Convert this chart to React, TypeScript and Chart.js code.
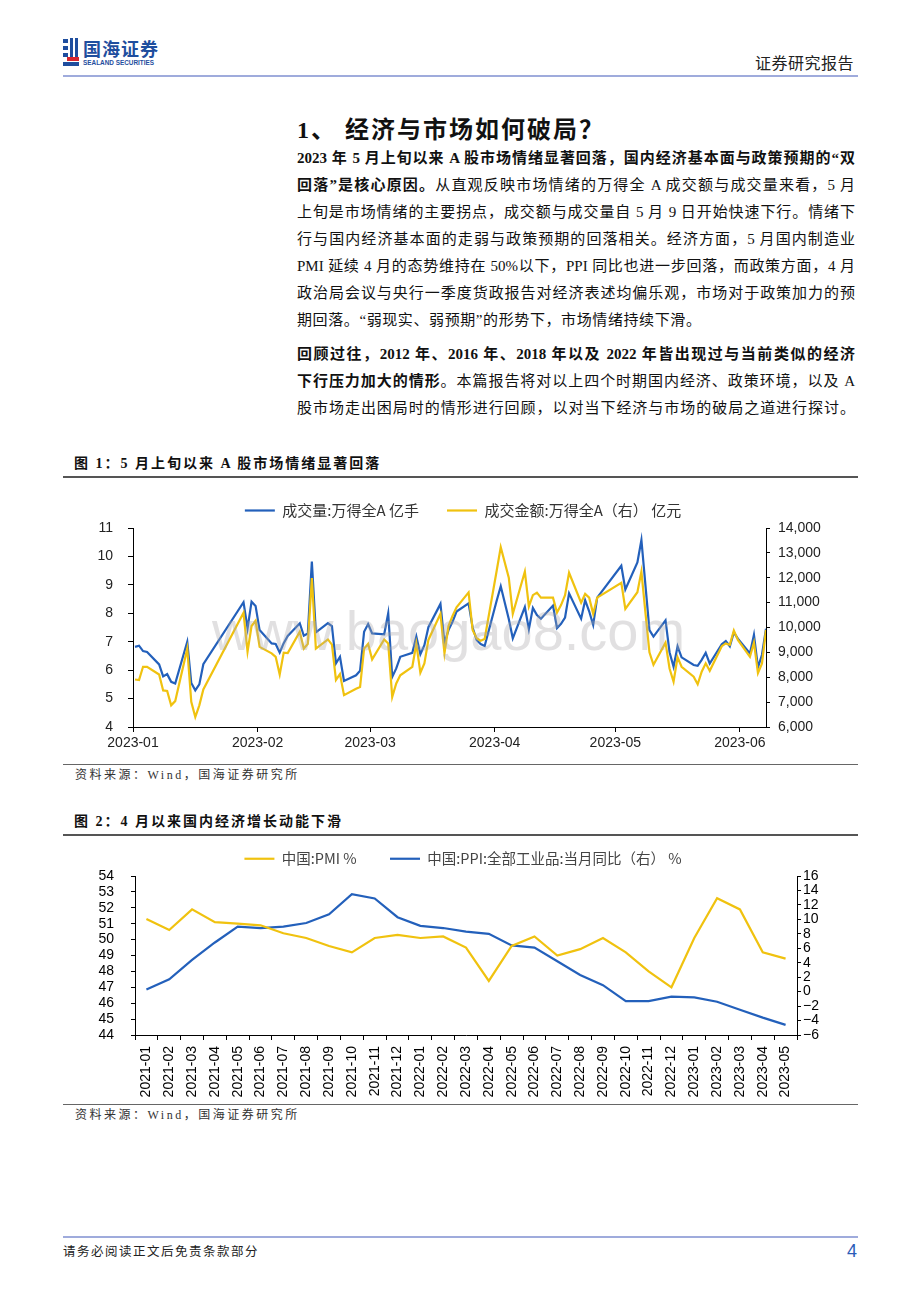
import React, { useEffect, useRef } from 'react';
import { Chart, registerables } from 'chart.js';

Chart.register(...registerables);

// ---------- Figure 1 data (2023 trading days) ----------
const tradeDates = [
  '01-03', '01-04', '01-05', '01-06', '01-09', '01-10', '01-11', '01-12', '01-13', '01-16', '01-17', '01-18', '01-19', '01-20', '01-30', '01-31',
  '02-01', '02-02', '02-03', '02-06', '02-07', '02-08', '02-09', '02-10', '02-13', '02-14', '02-15', '02-16', '02-17', '02-20', '02-21', '02-22', '02-23', '02-24', '02-27', '02-28',
  '03-01', '03-02', '03-03', '03-06', '03-07', '03-08', '03-09', '03-10', '03-13', '03-14', '03-15', '03-16', '03-17', '03-20', '03-21', '03-22', '03-23', '03-24', '03-27', '03-28', '03-29', '03-30', '03-31',
  '04-03', '04-04', '04-06', '04-07', '04-10', '04-11', '04-12', '04-13', '04-14', '04-17', '04-18', '04-19', '04-20', '04-21', '04-24', '04-25', '04-26', '04-27', '04-28',
  '05-04', '05-05', '05-08', '05-09', '05-10', '05-11', '05-12', '05-15', '05-16', '05-17', '05-18', '05-19', '05-22', '05-23', '05-24', '05-25', '05-26', '05-29', '05-30', '05-31',
  '06-01', '06-02', '06-05', '06-06', '06-07', '06-08', '06-09',
];

// 成交量:万得全A (亿手)
const volume = [
  6.82, 6.86, 6.67, 6.64, 6.20, 5.78, 5.86, 5.59, 5.53, 7.00, 5.55, 5.29, 5.50, 6.21, 8.39, 7.47,
  8.41, 8.26, 7.41, 6.94, 6.92, 6.62, 6.95, 7.20, 7.65, 7.21, 7.29, 9.82, 7.33, 7.65, 7.55, 6.24, 6.47, 5.62, 5.82, 5.98,
  7.35, 7.62, 7.29, 7.26, 8.00, 5.76, 6.06, 6.47, 6.61, 7.18, 6.56, 6.88, 7.51, 8.33, 6.94, 7.41, 7.70, 8.06, 8.35, 7.50, 7.06, 6.92, 6.85,
  8.45, 8.95, 7.80, 7.12, 8.22, 7.44, 8.19, 7.94, 7.81, 8.27, 7.48, 7.63, 7.85, 8.70, 7.81, 8.46, 8.07, 7.59, 8.55,
  9.67, 8.84, 9.79, 10.58, 8.99, 7.41, 7.18, 7.75, 6.63, 6.12, 6.84, 6.45, 6.18, 6.15, 6.36, 6.61, 6.23, 6.91, 7.02, 6.84,
  7.33, 7.11, 6.59, 7.24, 6.10, 6.54, 7.46,
];

// 成交金额:万得全A (亿元)
const amount = [
  7910, 7890, 8420, 8420, 8110, 7470, 7450, 6870, 7040, 9150, 7010, 6400, 6870, 7510, 10590, 9030,
  10060, 10270, 9220, 8960, 8820, 8110, 8990, 8970, 9830, 9150, 9340, 11990, 9150, 9520, 9310, 7890, 8130, 7280, 7540, 7610,
  9150, 9340, 8720, 9520, 9360, 7210, 7750, 8080, 8420, 9340, 8180, 8560, 9500, 10550, 8960, 10060, 10460, 10810, 11410, 9900, 9570, 9470, 9540,
  12290, 13230, 12000, 10550, 12250, 10850, 11300, 11400, 11200, 11200, 10600, 10900, 11300, 12200, 11000, 11350, 11200, 10550, 11200,
  11800, 10750, 11420, 12250, 10600, 9000, 8500, 9390, 8350, 7820, 8800, 8420, 8020, 7720, 8220, 8560, 8260, 9250, 9360, 9300,
  9880, 9500, 8820, 9390, 8170, 8550, 9900,
];

const monthStarts = ['01-01', '02-01', '03-01', '04-01', '05-01', '06-01'];
const monthTickLabels = ['2023-01', '2023-02', '2023-03', '2023-04', '2023-05', '2023-06'];
const lastDate = '06-09';

// ---------- Figure 2 data ----------
const months2 = [
  '2021-01', '2021-02', '2021-03', '2021-04', '2021-05', '2021-06', '2021-07', '2021-08', '2021-09', '2021-10', '2021-11', '2021-12',
  '2022-01', '2022-02', '2022-03', '2022-04', '2022-05', '2022-06', '2022-07', '2022-08', '2022-09', '2022-10', '2022-11', '2022-12',
  '2023-01', '2023-02', '2023-03', '2023-04', '2023-05',
];
const pmi = [51.3, 50.6, 51.9, 51.1, 51.0, 50.9, 50.4, 50.1, 49.6, 49.2, 50.1, 50.3, 50.1, 50.2, 49.5, 47.4, 49.6, 50.2, 49.0, 49.4, 50.1, 49.2, 48.0, 47.0, 50.1, 52.6, 51.9, 49.2, 48.8];
const ppi = [0.3, 1.7, 4.4, 6.8, 9.0, 8.8, 9.0, 9.5, 10.7, 13.5, 12.9, 10.3, 9.1, 8.8, 8.3, 8.0, 6.4, 6.1, 4.2, 2.3, 0.9, -1.3, -1.3, -0.7, -0.8, -1.4, -2.5, -3.6, -4.6];

// ---------- styles ----------
const BLUE = '#2360bb';
const YELLOW = '#f0c20f';
const CJK = '"Noto Sans CJK SC", sans-serif';
const BODY = '"Liberation Serif", "Noto Sans CJK SC", serif';
const NUM = '"Liberation Sans", Arial, sans-serif';
const TICK_SHIFT = 1.5;

const dayIndex = (md: string) => {
  const [m, d] = md.split('-').map(Number);
  return (Date.UTC(2023, m - 1, d) - Date.UTC(2023, 0, 1)) / 86400000;
};

function VolumeChart() {
  const ref = useRef<HTMLCanvasElement>(null);
  useEffect(() => {
    const volPts = tradeDates.map((d, i) => ({ x: dayIndex(d), y: volume[i] }));
    const amtPts = tradeDates.map((d, i) => ({ x: dayIndex(d), y: amount[i] }));
    const tickVals = monthStarts.map((m) => dayIndex(m) + TICK_SHIFT);
    const chart = new Chart(ref.current as HTMLCanvasElement, {
      type: 'line',
      data: {
        datasets: [
          { label: '成交量:万得全A 亿手', data: volPts, yAxisID: 'yL', borderColor: BLUE, backgroundColor: BLUE, borderWidth: 2.2, pointRadius: 0, tension: 0, order: 1 },
          { label: '成交金额:万得全A（右） 亿元', data: amtPts, yAxisID: 'yR', borderColor: YELLOW, backgroundColor: YELLOW, borderWidth: 2.2, pointRadius: 0, tension: 0, order: 0 },
        ],
      },
      options: {
        animation: false,
        responsive: true,
        maintainAspectRatio: false,
        events: [],
        layout: { padding: 0 },
        plugins: {
          tooltip: { enabled: false },
          legend: {
            position: 'top',
            labels: {
              usePointStyle: true,
              pointStyle: 'line',
              pointStyleWidth: 30,
              padding: 28,
              color: '#333',
              font: { family: CJK, size: 15 },
              sort: (a: any, b: any) => a.datasetIndex - b.datasetIndex,
            },
          },
        },
        scales: {
          x: {
            type: 'linear',
            min: dayIndex(monthStarts[0]) + TICK_SHIFT,
            max: dayIndex(lastDate),
            afterBuildTicks: (s: any) => {
              s.ticks = tickVals.map((v) => ({ value: v }));
            },
            afterFit: (s: any) => {
              s.height = 28;
            },
            ticks: {
              autoSkip: false,
              maxRotation: 0,
              padding: 3,
              color: '#222',
              font: { family: NUM, size: 14 },
              callback: (_v: any, i: number) => monthTickLabels[i],
            },
            grid: { display: true, drawOnChartArea: false, drawTicks: true, tickLength: 5, color: '#000' },
            border: { display: true, color: '#000', width: 1 },
          },
          yL: {
            position: 'left',
            min: 4,
            max: 11,
            afterFit: (s: any) => {
              s.width = 70;
            },
            ticks: { stepSize: 1, autoSkip: false, padding: 15, color: '#222', font: { family: NUM, size: 14 } },
            grid: { display: true, drawOnChartArea: false, drawTicks: true, tickLength: 5, color: '#000' },
            border: { display: true, color: '#000', width: 1 },
          },
          yR: {
            position: 'right',
            min: 6000,
            max: 14000,
            afterFit: (s: any) => {
              s.width = 97;
            },
            ticks: {
              stepSize: 1000,
              autoSkip: false,
              padding: 8,
              color: '#222',
              font: { family: NUM, size: 14 },
              callback: (v: any) => Number(v).toLocaleString('en-US'),
            },
            grid: { display: true, drawOnChartArea: false, drawTicks: true, tickLength: 4, color: '#000' },
            border: { display: true, color: '#000', width: 1 },
          },
        },
      } as any,
    });
    return () => chart.destroy();
  }, []);
  return (
    <div style={{ position: 'absolute', left: 63, top: 475, width: 800, height: 280 }}>
      <canvas ref={ref} />
    </div>
  );
}

function PmiChart() {
  const ref = useRef<HTMLCanvasElement>(null);
  useEffect(() => {
    const chart = new Chart(ref.current as HTMLCanvasElement, {
      type: 'line',
      data: {
        labels: months2,
        datasets: [
          { label: '中国:PMI %', data: pmi, yAxisID: 'yL', borderColor: YELLOW, backgroundColor: YELLOW, borderWidth: 2.2, pointRadius: 0, tension: 0 },
          { label: '中国:PPI:全部工业品:当月同比（右） %', data: ppi, yAxisID: 'yR', borderColor: BLUE, backgroundColor: BLUE, borderWidth: 2.2, pointRadius: 0, tension: 0 },
        ],
      },
      options: {
        animation: false,
        responsive: true,
        maintainAspectRatio: false,
        events: [],
        layout: { padding: 0 },
        plugins: {
          tooltip: { enabled: false },
          legend: {
            position: 'top',
            labels: {
              usePointStyle: true,
              pointStyle: 'line',
              pointStyleWidth: 30,
              padding: 33.5,
              color: '#444',
              font: { family: CJK, size: 14.5 },
            },
          },
        },
        scales: {
          x: {
            type: 'category',
            offset: true,
            afterFit: (s: any) => {
              s.height = 64;
            },
            ticks: {
              autoSkip: false,
              minRotation: 90,
              maxRotation: 90,
              padding: 6,
              color: '#000',
              font: { family: NUM, size: 14 },
            },
            grid: { display: true, offset: true, drawOnChartArea: false, drawTicks: true, tickLength: 5, color: '#000' },
            border: { display: true, color: '#000', width: 1 },
          },
          yL: {
            position: 'left',
            min: 44,
            max: 54,
            afterFit: (s: any) => {
              s.width = 72;
            },
            ticks: { stepSize: 1, autoSkip: false, padding: 17, color: '#000', font: { family: NUM, size: 14 } },
            grid: { display: true, drawOnChartArea: false, drawTicks: true, tickLength: 4, color: '#000' },
            border: { display: true, color: '#000', width: 1 },
          },
          yR: {
            position: 'right',
            min: -6,
            max: 16,
            afterFit: (s: any) => {
              s.width = 66;
            },
            ticks: {
              stepSize: 2,
              autoSkip: false,
              padding: 2,
              color: '#000',
              font: { family: NUM, size: 14 },
              callback: (v: any) => String(v).replace('-', '−'),
            },
            grid: { display: true, drawOnChartArea: false, drawTicks: true, tickLength: 4, color: '#000' },
            border: { display: true, color: '#000', width: 1 },
          },
        },
      } as any,
    });
    return () => chart.destroy();
  }, []);
  return (
    <div style={{ position: 'absolute', left: 63, top: 818, width: 800, height: 281 }}>
      <canvas ref={ref} />
    </div>
  );
}

type Seg = [string, string];
const p1Lines: Seg[][] = [
  [['b', '2023 年 5 月上旬以来 A 股市场情绪显著回落，国内经济基本面与政策预期的“双']],
  [['b', '回落”是核心原因。'], ['n', '从直观反映市场情绪的万得全 A 成交额与成交量来看，5 月']],
  [['n', '上旬是市场情绪的主要拐点，成交额与成交量自 5 月 9 日开始快速下行。情绪下']],
  [['n', '行与国内经济基本面的走弱与政策预期的回落相关。经济方面，5 月国内制造业']],
  [['n', 'PMI 延续 4 月的态势维持在 50%以下，PPI 同比也进一步回落，而政策方面，4 月']],
  [['n', '政治局会议与央行一季度货政报告对经济表述均偏乐观，市场对于政策加力的预']],
  [['n', '期回落。“弱现实、弱预期”的形势下，市场情绪持续下滑。']],
];
const p2Lines: Seg[][] = [
  [['b', '回顾过往，2012 年、2016 年、2018 年以及 2022 年皆出现过与当前类似的经济']],
  [['b', '下行压力加大的情形'], ['n', '。本篇报告将对以上四个时期国内经济、政策环境，以及 A']],
  [['n', '股市场走出困局时的情形进行回顾，以对当下经济与市场的破局之道进行探讨。']],
];

function TextLine({ segs, center, justify }: { segs: Seg[]; center: number; justify: boolean }) {
  return (
    <div
      style={{
        position: 'absolute',
        left: 297,
        top: center - 13.5,
        width: 558,
        height: 27,
        lineHeight: '27px',
        fontSize: 15,
        fontFamily: BODY,
        color: '#111',
        textAlign: justify ? 'justify' : 'left',
        textAlignLast: justify ? 'justify' : 'left',
        whiteSpace: 'nowrap',
        letterSpacing: justify ? 0 : 0.6,
      } as any}
    >
      {segs.map((s, i) => (
        <span key={i} style={{ fontWeight: s[0] === 'b' ? 700 : 400 }}>
          {s[1]}
        </span>
      ))}
    </div>
  );
}

const abs = (l: number, t: number, extra: any = {}) => ({ position: 'absolute', left: l, top: t, ...extra });

export default function App() {
  return (
    <div
      style={{
        position: 'absolute',
        left: 0,
        top: 0,
        width: 920,
        height: 1302,
        background: '#fff',
        overflow: 'hidden',
        fontFamily: CJK,
        color: '#111',
      }}
    >
      {/* header logo */}
      <div style={abs(63, 39, { width: 5, height: 4, background: '#1f4e9e' }) as any} />
      <div style={abs(63, 46, { width: 5, height: 4, background: '#1f4e9e' }) as any} />
      <div style={abs(63, 53, { width: 5, height: 4, background: '#1f4e9e' }) as any} />
      <div style={abs(70, 38, { width: 3, height: 19, background: '#1f4e9e' }) as any} />
      <div style={abs(75, 38, { width: 3, height: 19, background: '#1f4e9e' }) as any} />
      <div style={abs(67, 57, { width: 12, height: 4, background: '#d8262e' }) as any} />
      <div style={abs(63, 62, { width: 16, height: 4, background: '#1f4e9e' }) as any} />
      <div style={abs(83, 37, { fontSize: 18, lineHeight: '22px', fontWeight: 700, color: '#1f4e9e', fontFamily: CJK, letterSpacing: 1 }) as any}>国海证券</div>
      <div style={abs(83, 59, { fontSize: 6.4, lineHeight: '8px', fontWeight: 700, color: '#1f4e9e', fontFamily: NUM, whiteSpace: 'nowrap' }) as any}>SEALAND SECURITIES</div>
      <div style={abs(755, 52, { fontSize: 16, lineHeight: '20px', color: '#222', fontFamily: CJK, letterSpacing: 0.5 }) as any}>证券研究报告</div>
      <div style={abs(63, 75, { width: 795, height: 2, background: '#9fabdc' }) as any} />

      {/* section title */}
      <div style={abs(297, 113, { fontSize: 24, lineHeight: '34px', fontWeight: 700, fontFamily: BODY, color: '#111', whiteSpace: 'nowrap', letterSpacing: 2 }) as any}>
        1、 经济与市场如何破局？
      </div>

      {p1Lines.map((segs, i) => (
        <TextLine key={'a' + i} segs={segs} center={158 + 27 * i} justify={i < p1Lines.length - 1} />
      ))}
      {p2Lines.map((segs, i) => (
        <TextLine key={'b' + i} segs={segs} center={354 + 27 * i} justify={true} />
      ))}

      {/* figure 1 */}
      <div style={abs(74, 454, { fontSize: 14, lineHeight: '20px', fontWeight: 700, fontFamily: BODY, color: '#111', whiteSpace: 'nowrap', letterSpacing: 2 }) as any}>
        图 1：5 月上旬以来 A 股市场情绪显著回落
      </div>
      <div style={abs(63, 476, { width: 795, height: 1.5, background: '#555' }) as any} />
      <VolumeChart />
      <div
        style={abs(212, 596, {
          fontSize: 56,
          lineHeight: '70px',
          fontFamily: NUM,
          color: 'rgba(170,165,168,0.35)',
          whiteSpace: 'nowrap',
          pointerEvents: 'none',
        }) as any}
      >
        www.baogao8.com
      </div>
      <div style={abs(63, 764, { width: 795, height: 1.2, background: '#666' }) as any} />
      <div style={abs(75, 767, { fontSize: 12, lineHeight: '16px', fontFamily: BODY, color: '#333', whiteSpace: 'nowrap', letterSpacing: 2.5 }) as any}>
        资料来源：Wind，国海证券研究所
      </div>

      {/* figure 2 */}
      <div style={abs(74, 812, { fontSize: 14, lineHeight: '20px', fontWeight: 700, fontFamily: BODY, color: '#111', whiteSpace: 'nowrap', letterSpacing: 2 }) as any}>
        图 2：4 月以来国内经济增长动能下滑
      </div>
      <div style={abs(63, 834, { width: 795, height: 1.5, background: '#555' }) as any} />
      <PmiChart />
      <div style={abs(63, 1104, { width: 795, height: 1.2, background: '#666' }) as any} />
      <div style={abs(75, 1107, { fontSize: 12, lineHeight: '16px', fontFamily: BODY, color: '#333', whiteSpace: 'nowrap', letterSpacing: 2.5 }) as any}>
        资料来源：Wind，国海证券研究所
      </div>

      {/* footer */}
      <div style={abs(63, 1236, { width: 795, height: 2, background: '#9fabdc' }) as any} />
      <div style={abs(63, 1242, { fontSize: 12.5, lineHeight: '18px', fontFamily: CJK, color: '#222', whiteSpace: 'nowrap', letterSpacing: 1.5 }) as any}>
        请务必阅读正文后免责条款部分
      </div>
      <div style={abs(847, 1240, { fontSize: 18, lineHeight: '22px', fontFamily: NUM, color: '#2b5cb8' }) as any}>4</div>
    </div>
  );
}
